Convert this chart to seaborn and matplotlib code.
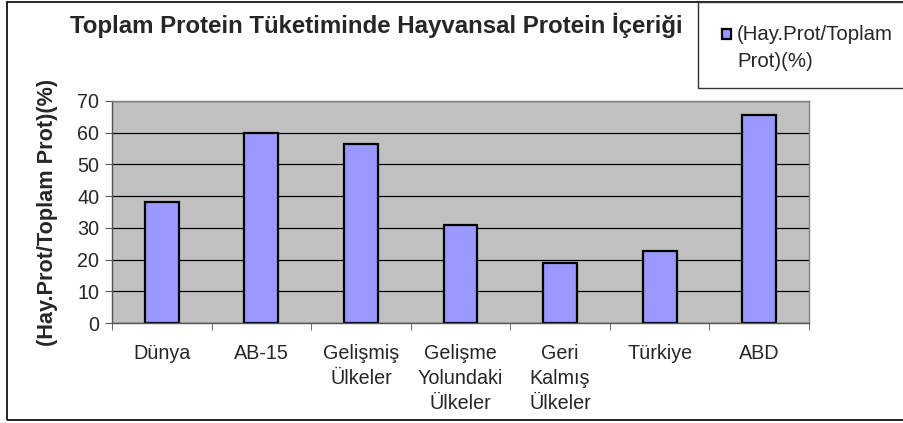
import matplotlib
matplotlib.use("Agg")
import matplotlib.pyplot as plt
import seaborn as sns
import pandas as pd
from matplotlib.patches import Rectangle

# veri
bolgeler = ["Dünya", "AB-15", "Gelişmiş\nÜlkeler", "Gelişme\nYolundaki\nÜlkeler",
            "Geri\nKalmış\nÜlkeler", "Türkiye", "ABD"]
oranlar = [38, 60, 56.5, 30.8, 18.9, 22.8, 65.5]
seri_adi = "(Hay.Prot/Toplam\nProt)(%)"

df = pd.DataFrame({"bolge": bolgeler, "oran": oranlar})

sns.set_style("ticks")
plt.rcParams["font.family"] = ["Liberation Sans", "DejaVu Sans"]

W, H = 904, 423
fig = plt.figure(figsize=(W / 100, H / 100), dpi=100)
ax = fig.add_axes([112 / W, 1 - 323 / H, (809 - 112) / W, (323 - 101) / H])
ax.set_facecolor("#C0C0C0")

sns.barplot(data=df, x="bolge", y="oran", ax=ax, width=0.34, color="#9999FF",
            edgecolor="black", linewidth=1.6, saturation=1)

ax.set_xlim(-0.5, len(bolgeler) - 0.5)
ax.set_ylim(0, 70)
ax.set_yticks(range(0, 71, 10))
ax.yaxis.grid(True, color="black", linewidth=0.9)
ax.set_axisbelow(True)
ax.set_xlabel("")
ax.set_ylabel("(Hay.Prot/Toplam Prot)(%)", fontsize=15.6, fontweight="bold", labelpad=14)

ax.tick_params(axis="y", labelsize=14.2, length=5, color="#555555", pad=4)
ax.tick_params(axis="x", which="major", labelsize=14.2, length=0, pad=15)
for t in ax.get_xticklabels():
    t.set_linespacing(1.42)
ax.set_xticks([i + 0.5 for i in range(-1, len(bolgeler))], minor=True)
ax.tick_params(axis="x", which="minor", length=5, color="#555555")
for s in ax.spines.values():
    s.set_color("#808080")
    s.set_linewidth(1)
ax.spines["left"].set_color("#555555")
ax.spines["bottom"].set_color("#555555")

fig.text(376 / W, 1 - 25 / H, "Toplam Protein Tüketiminde Hayvansal Protein İçeriği",
         ha="center", va="center", fontsize=17.3, fontweight="bold")

# cerceveler
fig.patches.append(Rectangle((7 / W, 1 - 420 / H), (W + 5 - 7) / W, (420 - 2) / H,
                             transform=fig.transFigure, fill=False,
                             edgecolor="black", linewidth=1.2))
fig.patches.append(Rectangle((698 / W, 1 - 88 / H), (W + 5 - 698) / W, (88 - 2) / H,
                             transform=fig.transFigure, fill=False,
                             edgecolor="#333333", linewidth=1))

# lejant
fig.patches.append(Rectangle((722 / W, 1 - 39 / H), 9.5 / W, 9.5 / H,
                             transform=fig.transFigure, facecolor="#9999FF",
                             edgecolor="black", linewidth=1.6))
fig.text(737 / W, 1 - 25 / H, seri_adi, ha="left", va="top", fontsize=14.7,
         linespacing=1.55)

fig.savefig("out.png", dpi=100)
